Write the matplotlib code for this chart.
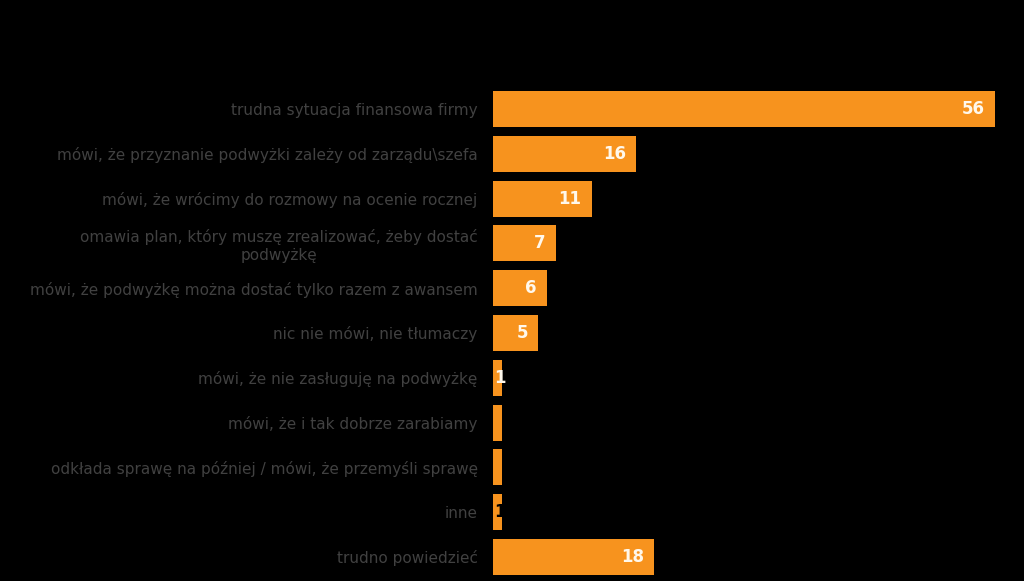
import matplotlib
matplotlib.use("Agg")
import matplotlib.pyplot as plt
from matplotlib.transforms import offset_copy

categories = [
    "trudna sytuacja finansowa firmy",
    "mówi, że przyznanie podwyżki zależy od zarządu\\szefa",
    "mówi, że wrócimy do rozmowy na ocenie rocznej",
    "omawia plan, który muszę zrealizować, żeby dostać\npodwyżkę",
    "mówi, że podwyżkę można dostać tylko razem z awansem",
    "nic nie mówi, nie tłumaczy",
    "mówi, że nie zasługuję na podwyżkę",
    "mówi, że i tak dobrze zarabiamy",
    "odkłada sprawę na później / mówi, że przemyśli sprawę",
    "inne",
    "trudno powiedzieć",
]
values = [56, 16, 11, 7, 6, 5, 1, 1, 1, 1, 18]
value_labels = ["56", "16", "11", "7", "6", "5", "1", "", "", "1", "18"]
label_colors = ["#FFF8EC"] * 9 + ["#000000", "#FFF8EC"]

bar_color = "#F7931E"
text_color = "#414141"

fig = plt.figure(figsize=(10.24, 5.81), dpi=100, facecolor="black")
ax = fig.add_axes([493/1024, 1 - 579.4/581, 510.7/1024, (579.4 - 86.6)/581])
ax.set_facecolor("black")

y = list(range(len(categories)))
ax.barh(y, values, height=0.8, color=bar_color)
ax.set_xlim(0, 57)
ax.set_ylim(len(categories) - 0.5, -0.5)

ax.set_yticks(y)
ax.set_yticklabels(categories, fontsize=11, color=text_color,
                   family="DejaVu Sans", multialignment="center",
                   linespacing=1.25)
ax.tick_params(axis="y", length=0, pad=11)
ax.set_xticks([])
for s in ax.spines.values():
    s.set_visible(False)

for i, (v, lab, c) in enumerate(zip(values, value_labels, label_colors)):
    if not lab:
        continue
    if v >= 3:
        tr = offset_copy(ax.transData, fig=fig, x=-10, y=0, units="dots")
        ax.text(v, i, lab, transform=tr, ha="right", va="center",
                color=c, fontsize=12, fontweight="bold", family="DejaVu Sans")
    else:
        tr = offset_copy(ax.transData, fig=fig, x=1, y=0, units="dots")
        ax.text(0, i, lab, transform=tr, ha="left", va="center",
                color=c, fontsize=12, fontweight="bold", family="DejaVu Sans")

fig.savefig("out.png", dpi=100, facecolor="black")
